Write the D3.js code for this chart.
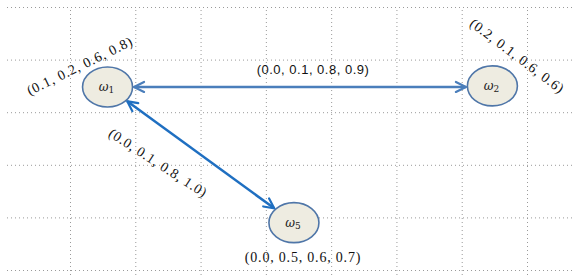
<!DOCTYPE html>
<html><head><meta charset="utf-8">
<script src="https://cdn.jsdelivr.net/npm/d3@7"></script>
<style>html,body{margin:0;padding:0;background:#fff;}svg{display:block;}</style>
</head><body>
<svg id="c" width="575" height="278"></svg>
<script>
// Data (grid units)
const nodeNames = ["ω1", "ω2", "ω5"];
const nodeSubs = ["1", "2", "5"];
const nodeGX = [1.575, 7.47, 4.43];
const nodeGY = [1.52, 1.5, 4.1];
const nodeLabels = ["(0.1, 0.2, 0.6, 0.8)", "(0.2, 0.1, 0.6, 0.6)", "(0.0, 0.5, 0.6, 0.7)"];
const edgeFrom = [0, 0];
const edgeTo = [1, 2];
const edgeLabels = ["(0.0, 0.1, 0.8, 0.9)", "(0.0, 0.1, 0.8, 1.0)"];
const gridCols = [1, 2, 3, 4, 5, 6, 7, 8];
const gridRows = [0, 1, 2, 3, 4, 5];

const svg = d3.select("#c");
const x = d3.scaleLinear().domain([1, 8]).range([70, 527]);
const y = d3.scaleLinear().domain([0, 5]).range([7, 270]);

// grid
const g = svg.append("g");
g.selectAll("line.h").data(gridRows).join("line")
  .attr("x1", 7).attr("x2", 573)
  .attr("y1", d => y(d) + 0.5).attr("y2", d => y(d) + 0.5)
  .attr("stroke", "#9a9a9a").attr("stroke-width", 1).attr("stroke-dasharray", "1,3");
g.selectAll("line.v").data(gridCols).join("line")
  .attr("y1", 10).attr("y2", 278)
  .attr("x1", d => x(d) + 0.5).attr("x2", d => x(d) + 0.5)
  .attr("stroke", "#9a9a9a").attr("stroke-width", 1).attr("stroke-dasharray", "1,3");

const rx = 25, ry = 20;
const edgeColors = ["#4a7ebb", "#1f6fc1"];
function ellipseEdge(cx, cy, ux, uy) {
  const t = 1 / Math.sqrt((ux * ux) / (rx * rx) + (uy * uy) / (ry * ry));
  return [cx + ux * t, cy + uy * t];
}
function arrowHead(tip, ux, uy, color) {
  const L = 10, W = 5;
  const bx = tip[0] - ux * L, by = tip[1] - uy * L;
  const px = -uy, py = ux;
  svg.append("path")
    .attr("d", `M${bx + px * W},${by + py * W}L${tip[0]},${tip[1]}L${bx - px * W},${by - py * W}`)
    .attr("fill", "none").attr("stroke", color).attr("stroke-width", 2.2)
    .attr("stroke-linejoin", "miter").attr("stroke-linecap", "round");
}
edgeFrom.forEach((a, i) => {
  const b = edgeTo[i];
  let ax = x(nodeGX[a]), ay = y(nodeGY[a]), bx = x(nodeGX[b]), by = y(nodeGY[b]);
  if (i === 0) { ay = by = (ay + by) / 2 + 0.5; }
  const dx = bx - ax, dy = by - ay, len = Math.hypot(dx, dy);
  const ux = dx / len, uy = dy / len;
  const p1 = ellipseEdge(ax, ay, ux, uy);
  const p2 = ellipseEdge(bx, by, -ux, -uy);
  const s1 = [p1[0] + ux * 1.5, p1[1] + uy * 1.5], s2 = [p2[0] - ux * 1.5, p2[1] - uy * 1.5];
  svg.append("line").attr("x1", s1[0]).attr("y1", s1[1]).attr("x2", s2[0]).attr("y2", s2[1])
    .attr("stroke", edgeColors[i]).attr("stroke-width", 2.5);
  arrowHead(s1, -ux, -uy, edgeColors[i]);
  arrowHead(s2, ux, uy, edgeColors[i]);
});

// nodes
nodeNames.forEach((n, i) => {
  const cx = x(nodeGX[i]), cy = y(nodeGY[i]);
  svg.append("ellipse").attr("cx", cx).attr("cy", cy).attr("rx", rx).attr("ry", ry)
    .attr("fill", "#eeece1").attr("stroke", "#4f76a8").attr("stroke-width", 1.6);
  const t = svg.append("text").attr("x", cx - 1).attr("y", cy + 4)
    .attr("text-anchor", "middle").attr("font-family", "'DejaVu Serif', 'Liberation Serif', serif")
    .attr("font-size", 12).attr("fill", "#222");
  t.append("tspan").attr("font-style", "italic").text("ω");
  t.append("tspan").attr("font-size", 9).attr("dy", 2).text(nodeSubs[i]);
});

// labels
const serif = "'Liberation Serif', 'DejaVu Serif', serif";
function lab(txt, cx, cy, ang, fam, size, ls) {
  svg.append("text").attr("transform", `translate(${cx},${cy}) rotate(${ang})`)
    .attr("text-anchor", "middle").attr("dominant-baseline", "central")
    .attr("font-family", fam).attr("font-size", size).attr("letter-spacing", ls)
    .attr("fill", "#111").text(txt);
}
lab(nodeLabels[0], 80, 66, -26, serif, 14, 0.8);
lab(nodeLabels[1], 517, 56, 37, serif, 14, 0.7);
lab(nodeLabels[2], 303, 257, 0, serif, 14, 0.8);
lab(edgeLabels[0], 313, 69, 0, "'Liberation Sans', Arial, sans-serif", 13, 0.5);
lab(edgeLabels[1], 158, 163, 33, serif, 14, 0.7);
</script>
</body></html>
